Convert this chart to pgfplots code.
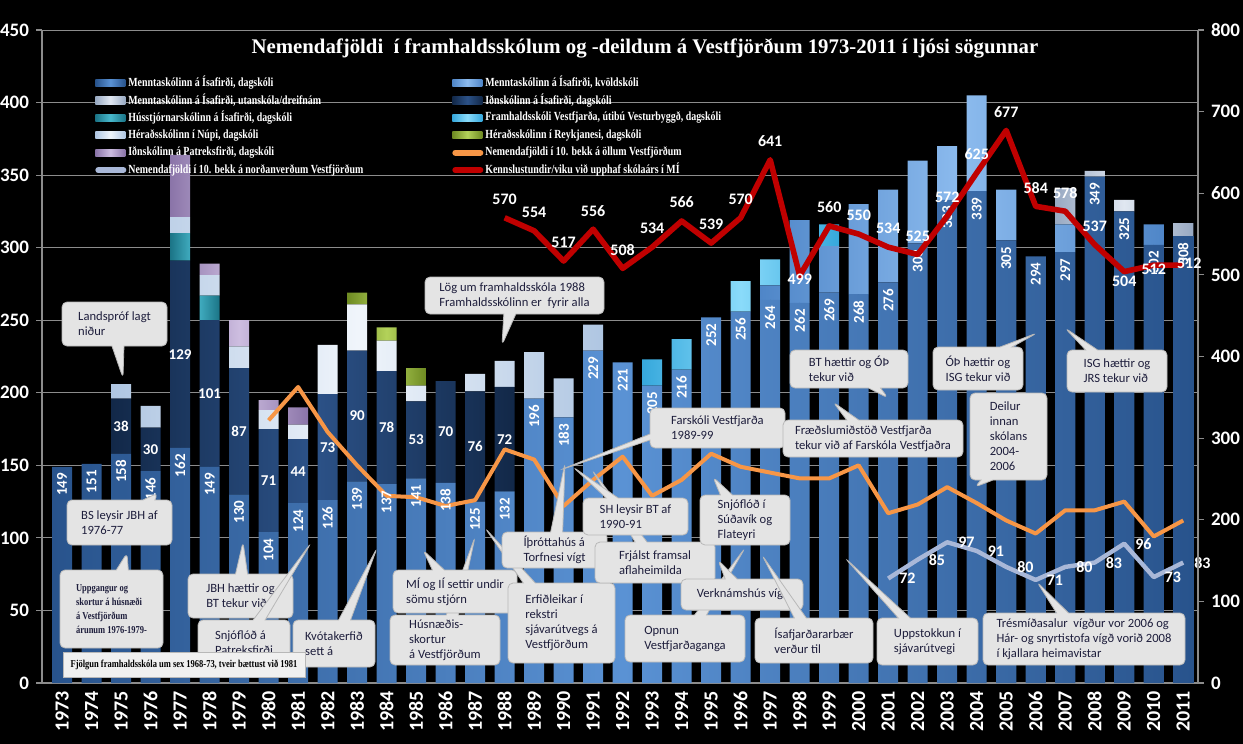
\documentclass[border=0pt]{standalone}
\usepackage{pgfplots}
\pgfplotsset{compat=1.18}
\usepackage{pgfplotstable}
\usepackage{fontspec}
\setmainfont{Carlito}
\newfontfamily\serifc{Liberation Serif}[FakeStretch=0.8]
\newfontfamily\titlef{Liberation Serif}
\usetikzlibrary{shapes.callouts}

\definecolor{dagE}{HTML}{28538C}\definecolor{dagM}{HTML}{5A92D4}
\definecolor{kvE}{HTML}{4F86C8}\definecolor{kvM}{HTML}{8CBBEE}
\definecolor{utE}{HTML}{98A9C2}\definecolor{utM}{HTML}{E0E7F1}
\definecolor{idnE}{HTML}{122848}\definecolor{idnM}{HTML}{2C5288}
\definecolor{husE}{HTML}{1B7486}\definecolor{husM}{HTML}{48B8CC}
\definecolor{vesE}{HTML}{36A8DC}\definecolor{vesM}{HTML}{8ADBFA}
\definecolor{nupE}{HTML}{AFC6E2}\definecolor{nupM}{HTML}{F0F5FB}
\definecolor{reyE}{HTML}{6E8A22}\definecolor{reyM}{HTML}{B3D25A}
\definecolor{patE}{HTML}{8A74A8}\definecolor{patM}{HTML}{CDBDE0}
\definecolor{corange}{HTML}{F79646}
\definecolor{cnord}{HTML}{A9B8D8}
\definecolor{cred}{HTML}{C00000}
\definecolor{gridc}{HTML}{8C8C8C}
\definecolor{boxfill}{HTML}{E4E4E4}
\definecolor{boxdraw}{HTML}{B8B8B8}
\definecolor{boxtext}{HTML}{1E1E3C}

\pgfplotstableread{
year dag kvold utan idn huss vest nupi reyk patr
1973 149 0 0 0 0 0 0 0 0
1974 151 0 0 0 0 0 0 0 0
1975 158 0 0 38 0 0 10 0 0
1976 146 0 0 30 0 0 15 0 0
1977 162 0 0 129 19 0 11 0 43
1978 149 0 0 101 17 0 14 0 8
1979 130 0 0 87 0 0 15 0 18
1980 104 0 0 71 0 0 13 0 7
1981 124 0 0 44 0 0 10 0 12
1982 126 0 0 73 0 0 34 0 0
1983 139 0 0 90 0 0 32 8 0
1984 137 0 0 78 0 0 21 9 0
1985 141 0 0 53 0 0 11 12 0
1986 138 0 0 70 0 0 0 0 0
1987 125 0 0 76 0 0 12 0 0
1988 132 0 0 72 0 0 18 0 0
1989 196 0 0 0 0 0 32 0 0
1990 183 0 0 0 0 0 27 0 0
1991 229 0 0 0 0 0 18 0 0
1992 221 0 0 0 0 0 0 0 0
1993 205 0 0 0 0 18 0 0 0
1994 216 0 0 0 0 21 0 0 0
1995 252 0 0 0 0 0 0 0 0
1996 256 0 0 0 0 21 0 0 0
1997 264 10 0 0 0 18 0 0 0
1998 262 57 0 0 0 0 0 0 0
1999 269 32 0 0 0 15 0 0 0
2000 268 62 0 0 0 0 0 0 0
2001 276 64 0 0 0 0 0 0 0
2002 303 57 0 0 0 0 0 0 0
2003 333 37 0 0 0 0 0 0 0
2004 339 66 0 0 0 0 0 0 0
2005 305 35 0 0 0 0 0 0 0
2006 294 0 0 0 0 0 0 0 0
2007 297 19 25 0 0 0 0 0 0
2008 349 0 4 0 0 0 0 0 0
2009 325 0 8 0 0 0 0 0 0
2010 302 14 0 0 0 0 0 0 0
2011 308 0 9 0 0 0 0 0 0
}\bars

\pgfplotstableread{
year v
1980 181
1981 204
1982 173
1983 150
1984 129
1985 128
1986 122
1987 126
1988 161
1989 154
1990 122
1991 140
1992 156
1993 129
1994 140
1995 158
1996 149
1997 145
1998 141
1999 141
2000 150
2001 117
2002 123
2003 135
2004 124
2005 112
2006 103
2007 119
2008 119
2009 125
2010 101
2011 112
}\orange

\pgfplotstableread{
year v
2001 72
2002 85
2003 97
2004 91
2005 80
2006 71
2007 80
2008 83
2009 96
2010 73
2011 83
}\nord

\pgfplotstableread{
year v
1988 570
1989 554
1990 517
1991 556
1992 508
1993 534
1994 566
1995 539
1996 570
1997 641
1998 499
1999 560
2000 550
2001 534
2002 525
2003 572
2004 625
2005 677
2006 584
2007 578
2008 537
2009 504
2010 512
2011 512
}\red

\tikzset{cb/.style={rectangle callout, rounded corners=2.5pt, fill=boxfill, draw=boxdraw,
  line width=0.4pt, text=boxtext, font=\fontsize{6.3}{7.5}\selectfont, align=left,
  inner sep=1.5pt, callout pointer width=6pt},
  labfont/.style={font=\bfseries\fontsize{7.5}{8}\selectfont, text=white},
  redfont/.style={font=\bfseries\fontsize{8}{9}\selectfont, text=white}}

\pgfplotsset{
  geom/.style={at={(21pt,-341.5pt)}, anchor=south west, scale only axis, width=578pt, height=326.5pt,
    xmin=1972.32, xmax=2011.5, enlargelimits=false,
    /pgf/number format/1000 sep={}, /pgf/number format/assume math mode=true},
  lab/.style={only marks, mark=*, mark size=0pt, mark options={draw=none, fill=none}, nodes near coords}
}

\begin{document}
\begin{tikzpicture}[x=0.5pt, y=-0.5pt]
\fill[black] (0,0) rectangle (1243,744);

\begin{axis}[geom, ymin=0, ymax=450,
  ybar stacked, bar width=0.68,
  axis x line*=bottom, axis y line*=left,
  axis line style={draw=gridc, line width=0.6pt},
  xtick={1973,...,2011}, minor x tick num=1,
  ytick={0,50,...,450},
  tick align=outside, major tick length=3pt, minor tick length=4pt,
  major x tick style={draw=none},
  minor x tick style={draw=gridc, line width=0.6pt},
  major y tick style={draw=gridc, line width=0.6pt},
  ymajorgrids, major grid style={draw=gridc, line width=0.5pt},
  x tick label style={rotate=90, anchor=east, font=\bfseries\fontsize{10}{10}\selectfont, text=white, inner sep=1pt},
  y tick label style={font=\bfseries\fontsize{9.5}{10}\selectfont, text=white},
  legend columns=2, legend cell align=left,
  legend style={at={(0.0458,0.9326)}, anchor=north west, draw=none, fill=none, text=white,
    font=\serifc\bfseries\fontsize{6.2}{7}\selectfont, inner sep=0pt, row sep=0pt, column sep=1pt,
    nodes={inner sep=0pt, minimum height=8.7pt}},
  legend image code/.code={\draw[#1, draw=none] (0pt,-1.8pt) rectangle (15pt,1.8pt);}
]
\addplot[draw=none, left color=dagE, right color=dagE, middle color=dagM] table[x=year,y=dag]{\bars};
\addlegendentry{\makebox[161pt][l]{Menntaskólinn á Ísafirði, dagskóli}}
\addplot[draw=none, left color=kvE, right color=kvE, middle color=kvM] table[x=year,y=kvold]{\bars};
\addlegendentry{Menntaskólinn á Ísafirði, kvöldskóli}
\addplot[draw=none, left color=utE, right color=utE, middle color=utM] table[x=year,y=utan]{\bars};
\addlegendentry{\makebox[161pt][l]{Menntaskólinn á Ísafirði, utanskóla/dreifnám}}
\addplot[draw=none, left color=idnE, right color=idnE, middle color=idnM] table[x=year,y=idn]{\bars};
\addlegendentry{Iðnskólinn á Ísafirði, dagskóli}
\addplot[draw=none, left color=husE, right color=husE, middle color=husM] table[x=year,y=huss]{\bars};
\addlegendentry{\makebox[161pt][l]{Hússtjórnarskólinn á Ísafirði, dagskóli}}
\addplot[draw=none, left color=vesE, right color=vesE, middle color=vesM] table[x=year,y=vest]{\bars};
\addlegendentry{Framhaldsskóli Vestfjarða, útibú Vesturbyggð, dagskóli}
\addplot[draw=none, left color=nupE, right color=nupE, middle color=nupM] table[x=year,y=nupi]{\bars};
\addlegendentry{\makebox[161pt][l]{Héraðsskólinn í Núpi, dagskóli}}
\addplot[draw=none, left color=reyE, right color=reyE, middle color=reyM] table[x=year,y=reyk]{\bars};
\addlegendentry{Héraðsskólinn í Reykjanesi, dagskóli}
\addplot[draw=none, left color=patE, right color=patE, middle color=patM] table[x=year,y=patr]{\bars};
\addlegendentry{\makebox[161pt][l]{Iðnskólinn á Patreksfirði, dagskóli}}
\addlegendimage{legend image code/.code={\draw[line width=3pt, corange, line cap=round] (1.5pt,0pt)--(14pt,0pt);}}
\addlegendentry{Nemendafjöldi í 10. bekk á öllum Vestfjörðum}
\addlegendimage{legend image code/.code={\draw[line width=3pt, cnord, line cap=round] (1.5pt,0pt)--(14pt,0pt);}}
\addlegendentry{\makebox[161pt][l]{Nemendafjöldi í 10. bekk á norðanverðum Vestfjörðum}}
\addlegendimage{legend image code/.code={\draw[line width=3pt, cred, line cap=round] (1.5pt,0pt)--(14pt,0pt);}}
\addlegendentry{Kennslustundir/viku við upphaf skólaárs í MÍ}
\end{axis}

\begin{axis}[geom, ymin=0, ymax=450, hide axis, clip=false]
\addplot[lab, every node near coord/.append style={labfont, rotate=90, anchor=east, inner sep=3pt}]
  table[x=year,y=dag]{\bars};
\addplot[lab, point meta=explicit, restrict x to domain=1975:1988,
  every node near coord/.append style={labfont, anchor=center}]
  table[x=year, y expr=\thisrow{dag}+0.5*\thisrow{idn}, meta=idn]{\bars};
\addplot[corange, line width=2pt, line join=round, mark=none] table[x=year,y=v]{\orange};
\addplot[cnord, line width=2.2pt, line join=round, mark=none] table[x=year,y=v]{\nord};
\addplot[lab, every node near coord/.append style={redfont, anchor=west, xshift=2pt}]
  table[x=year,y=v]{\nord};
\end{axis}

\begin{axis}[geom, ymin=0, ymax=800, clip=false,
  axis y line*=right, axis x line=none,
  axis line style={draw=gridc, line width=0.6pt},
  ytick={0,100,...,800}, tick align=outside, major tick length=3pt,
  tick style={draw=gridc, line width=0.6pt},
  y tick label style={font=\bfseries\fontsize{9.5}{10}\selectfont, text=white}]
\addplot[cred, line width=2.8pt, line join=round, mark=none] table[x=year,y=v]{\red};
\addplot[lab, unbounded coords=discard, x filter/.expression={(x==1998 || x>=2009) ? nan : x},
  every node near coord/.append style={redfont, anchor=south, yshift=3pt}]
  table[x=year,y=v]{\red};
\addplot[lab, unbounded coords=discard, x filter/.expression={(x==1998 || x==2010) ? x : nan},
  every node near coord/.append style={redfont, anchor=center, yshift=-2pt}]
  table[x=year,y=v]{\red};
\addplot[lab, unbounded coords=discard, x filter/.expression={(x==2009) ? x : nan},
  every node near coord/.append style={redfont, anchor=center, yshift=-5pt}]
  table[x=year,y=v]{\red};
\addplot[lab, unbounded coords=discard, x filter/.expression={(x==2011) ? x : nan},
  every node near coord/.append style={redfont, anchor=center, xshift=3pt, yshift=1pt}]
  table[x=year,y=v]{\red};
\end{axis}

\node[text=white, font=\titlef\bfseries\fontsize{10.4}{12}\selectfont] at (645,48)
  {Nemendafjöldi\ \ í framhaldsskólum og -deildum á Vestfjörðum 1973-2011 í ljósi sögunnar};

\node[cb, minimum width=89.5pt, minimum height=18.5pt, callout absolute pointer={(502,345)}] at (514.5,295.5) {Lög um framhaldsskóla 1988\\Framhaldsskólinn er\ \ fyrir alla};
\node[cb, minimum width=52.5pt, minimum height=22pt, callout absolute pointer={(123,378)}] at (114.5,324) {Landspróf lagt\\niður};
\node[cb, minimum width=52.5pt, minimum height=22.5pt, callout absolute pointer={(158,493)}] at (119.5,522.5) {BS leysir JBH af\\1976-77};
\node[cb, font=\serifc\bfseries\fontsize{5.3}{7}\selectfont, minimum width=51.5pt, minimum height=39pt, callout absolute pointer={(127,553)}] at (111.5,609) {Uppgangur og\\skortur á húsnæði\\á Vestfjörðum\\árunum 1976-1979-};
\node[cb, minimum width=52.5pt, minimum height=22pt, callout absolute pointer={(243,542)}] at (240.5,596) {JBH hættir og\\BT tekur við};
\node[cb, minimum width=46pt, minimum height=22.5pt, callout absolute pointer={(311,543)}] at (244,642.5) {Snjóflóð á\\Patreksfirði};
\node[cb, minimum width=41pt, minimum height=23.5pt, callout absolute pointer={(377,548)}] at (334,643.5) {Kvótakerfið\\sett á};
\node[rectangle, fill=white!88!gray, draw=boxdraw, line width=0.4pt, minimum width=121pt, minimum height=12.5pt, font=\serifc\bfseries\fontsize{5.3}{6}\selectfont, text=black] at (184,664.5) {Fjölgun framhaldsskóla um sex 1968-73, tveir bættust við 1981};
\node[cb, minimum width=55pt, minimum height=25pt, callout absolute pointer={(475,537)}] at (445,640) {Húsnæðis-\\skortur\\á Vestfjörðum};
\node[cb, minimum width=62pt, minimum height=21.5pt, callout absolute pointer={(423,550)}] at (455,591.5) {MÍ og IÍ settir undir\\sömu stjórn};
\node[cb, minimum width=53.5pt, minimum height=40pt, callout absolute pointer={(485,528)}] at (561.5,623) {Erfiðleikar í\\rekstri\\sjávarútvegs á\\Vestfjörðum};
\node[cb, minimum width=52.5pt, minimum height=18pt, callout absolute pointer={(565,463)}] at (554.5,550) {Íþróttahús á\\Torfnesi vígt};
\node[cb, minimum width=60pt, minimum height=20.5pt, callout absolute pointer={(592,470)}] at (655,562.5) {Frjálst framsal\\aflaheimilda};
\node[cb, minimum width=52.5pt, minimum height=18.5pt, callout absolute pointer={(573,467)}] at (635.5,516.5) {SH leysir BT af\\1990-91};
\node[cb, minimum width=67.5pt, minimum height=20pt, callout pointer width=3pt, callout absolute pointer={(560,470)}] at (717.5,428) {Farskóli Vestfjarða\\1989-99};
\node[cb, minimum width=60pt, minimum height=23.5pt, callout absolute pointer={(745,548)}] at (685,638.5) {Opnun\\Vestfjarðaganga};
\node[cb, minimum width=61pt, minimum height=15.5pt, callout absolute pointer={(718,560)}] at (742,594.5) {Verknámshús vígt};
\node[cb, minimum width=45pt, minimum height=25pt, callout absolute pointer={(713,477)}] at (745,520) {Snjóflóð í\\Súðavík og\\Flateyri};
\node[cb, minimum width=59pt, minimum height=22.5pt, callout absolute pointer={(762,555)}] at (814,640.5) {Ísafjarðararbær\\verður til};
\node[cb, minimum width=50.5pt, minimum height=23.5pt, callout absolute pointer={(845,558)}] at (927.5,641.5) {Uppstokkun í\\sjávarútvegi};
\node[cb, minimum width=59pt, minimum height=19pt, callout absolute pointer={(888,398)}] at (849,369) {BT hættir og ÓÞ\\tekur við};
\node[cb, minimum width=90pt, minimum height=18.5pt, callout absolute pointer={(833,402)}] at (873,438.5) {Fræðslumiðstöð Vestfjarða\\tekur við af Farskóla Vestfjaðra};
\node[cb, minimum width=45pt, minimum height=21.5pt, callout absolute pointer={(1037,333)}] at (978,368.5) {ÓÞ hættir og\\ISG tekur við};
\node[cb, minimum width=50pt, minimum height=21pt, callout absolute pointer={(1065,328)}] at (1117,371) {ISG hættir og\\JRS tekur við};
\node[cb, minimum width=38.5pt, minimum height=43.5pt, callout absolute pointer={(975,487)}] at (1008.5,436.5) {Deilur\\innan\\skólans\\2004-\\2006};
\node[cb, minimum width=101pt, minimum height=26pt, callout absolute pointer={(1037,582)}] at (1084,639) {Trésmíðasalur\ \ vígður vor 2006 og\\Hár- og snyrtistofa vígð vorið 2008\\í kjallara heimavistar};

\pgfresetboundingbox
\path (0,0) rectangle (1243,744);
\end{tikzpicture}
\end{document}
